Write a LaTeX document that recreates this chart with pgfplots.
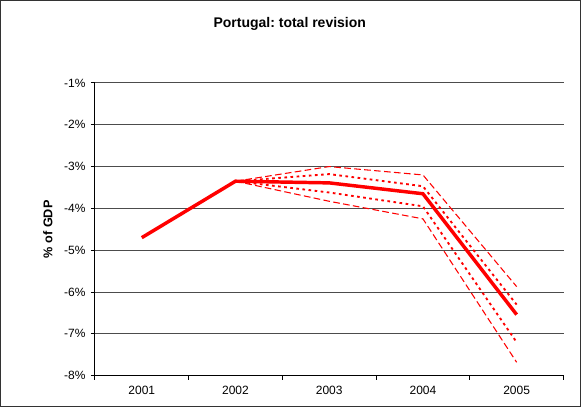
\documentclass[border=0pt]{standalone}
\usepackage{pgfplots}
\pgfplotsset{compat=1.18}
\usepackage{fontspec}
\setmainfont{Liberation Sans}
\frenchspacing
\definecolor{xlred}{RGB}{255,0,0}
% 1 px of the reference = 0.75pt
\begin{document}
\begin{tikzpicture}
\begin{axis}[
  at={(0,0)}, anchor=south west,
  scale only axis,
  width=351.75pt, height=219.75pt,
  xmin=0.5, xmax=5.5,
  ymin=-8, ymax=-1,
  axis x line*=bottom, axis y line*=left,
  axis line style={black, line width=0.75pt, -},
  xtick={1,2,3,4,5},
  xticklabels={2001,2002,2003,2004,2005},
  minor xtick={0.5,1.5,2.5,3.5,4.5,5.5},
  major x tick style={draw=none},
  minor x tick style={black, line width=0.75pt},
  ytick={-8,-7,-6,-5,-4,-3,-2,-1},
  yticklabels={-8\%,-7\%,-6\%,-5\%,-4\%,-3\%,-2\%,-1\%},
  y tick style={black, line width=0.75pt},
  tick align=outside,
  major tick length=3pt, minor tick length=3pt,
  ymajorgrids,
  grid style={black!70, line width=0.75pt},
  tick label style={font=\fontsize{9}{10}\selectfont},
  xticklabel style={yshift=-1pt},
  yticklabel style={xshift=-0.5pt},
  ylabel={\textbf{\% of GDP}},
  ylabel style={at={(axis description cs:-0.1002,0.5)}, anchor=center,
    font=\fontsize{9.5}{11}\selectfont},
  title={\textbf{Portugal: total revision}},
  title style={at={(axis description cs:0.5,1)}, anchor=center,
    xshift=-29.6pt, yshift=38pt, font=\fontsize{10.5}{12}\selectfont},
  clip=false,
]
\addplot[xlred, line width=0.8pt, dash pattern=on 5pt off 2.5pt] coordinates {
  (2,-3.35) (3,-3.00) (4,-3.20) (5,-5.87)
};
\addplot[xlred, line width=1.4pt, dash pattern=on 2pt off 2.6pt] coordinates {
  (2,-3.35) (3,-3.18) (4,-3.47) (5,-6.30)
};
\addplot[xlred, line width=1.4pt, dash pattern=on 2pt off 2.6pt] coordinates {
  (2,-3.35) (3,-3.62) (4,-3.95) (5,-7.20)
};
\addplot[xlred, line width=0.8pt, dash pattern=on 5pt off 2.5pt] coordinates {
  (2,-3.35) (3,-3.83) (4,-4.25) (5,-7.68)
};
\addplot[xlred, line width=2.6pt] coordinates {
  (1,-4.70) (2,-3.35) (3,-3.39) (4,-3.65) (5,-6.54)
};
\end{axis}
\draw[black!80, line width=0.75pt] (-70.875pt,-22.875pt) rectangle (364.5pt,281.625pt);
\end{tikzpicture}
\end{document}
